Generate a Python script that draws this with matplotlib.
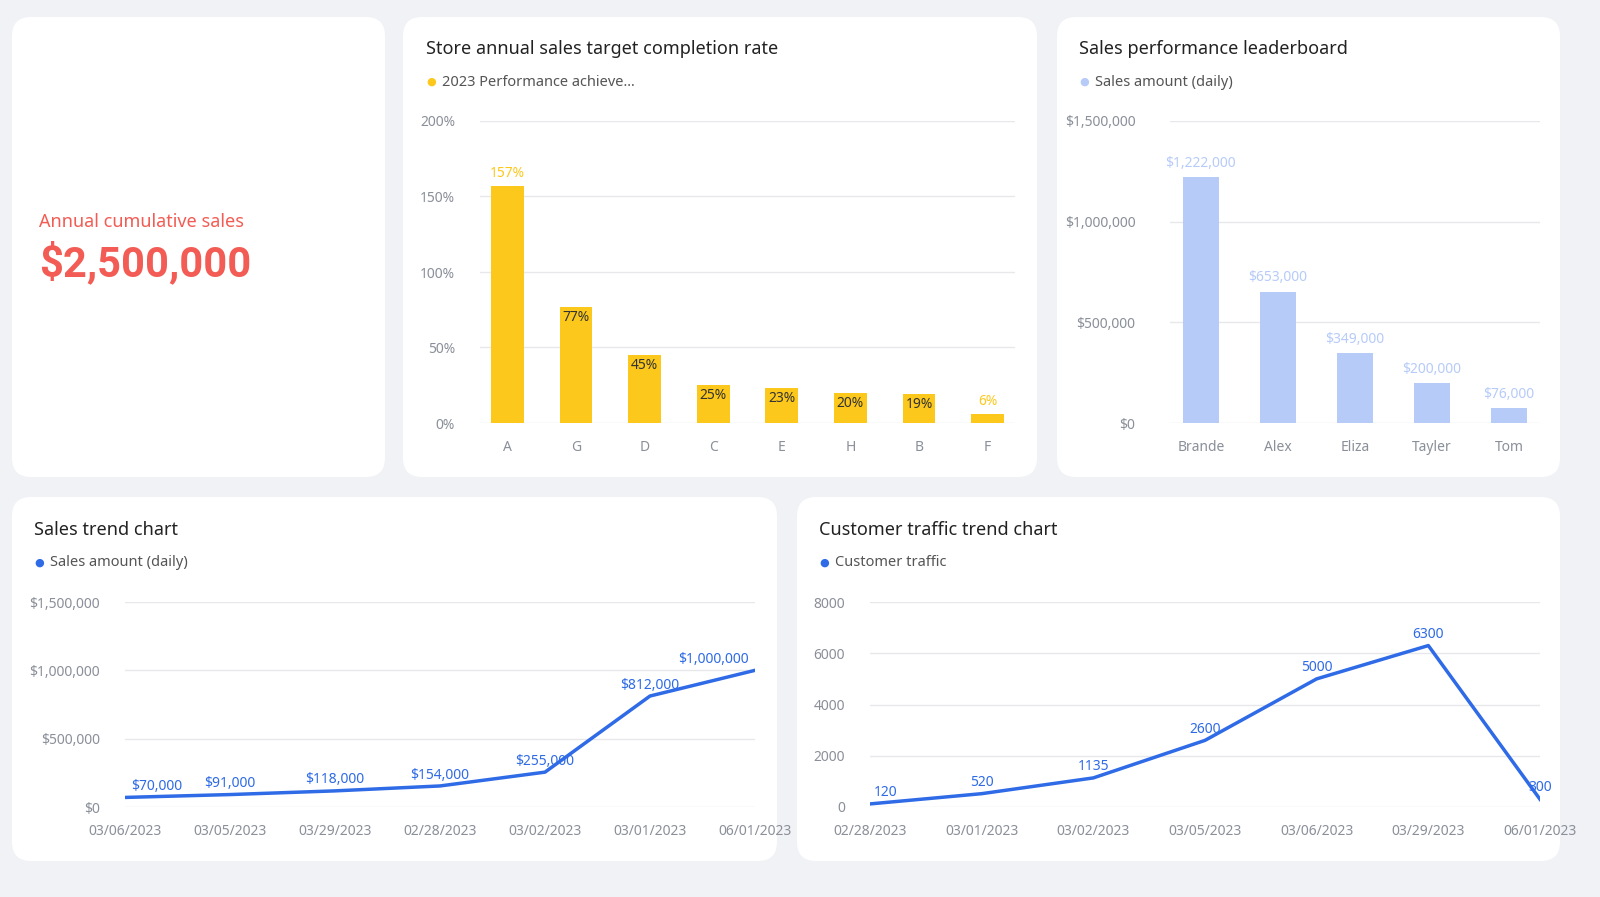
import matplotlib.pyplot as plt
from matplotlib.patches import FancyBboxPatch

W, H = 1600, 897
BG = "#f0f2f5"
YELLOW = "#fcc81c"
LIGHT_BLUE = "#b7cbf9"
BLUE = "#2f6be6"
GRID = "#e6e8eb"
TICK = "#8a8f99"

stores = ["A", "G", "D", "C", "E", "H", "B", "F"]
completion = [157, 77, 45, 25, 23, 20, 19, 6]

people = ["Brande", "Alex", "Eliza", "Tayler", "Tom"]
people_sales = [1222000, 653000, 349000, 200000, 76000]

sales_dates = ["03/06/2023", "03/05/2023", "03/29/2023", "02/28/2023",
               "03/02/2023", "03/01/2023", "06/01/2023"]
sales_values = [70000, 91000, 118000, 154000, 255000, 812000, 1000000]

traffic_dates = ["02/28/2023", "03/01/2023", "03/02/2023", "03/05/2023",
                 "03/06/2023", "03/29/2023", "06/01/2023"]
traffic_values = [120, 520, 1135, 2600, 5000, 6300, 300]

plt.rcParams["font.family"] = ["Noto Sans", "DejaVu Sans"]
fig = plt.figure(figsize=(W / 100, H / 100), dpi=100, facecolor=BG)


def card(x0, y0, x1, y1):
    fig.patches.append(FancyBboxPatch(
        (x0 / W, 1 - y1 / H), (x1 - x0) / W, (y1 - y0) / H,
        boxstyle="round,pad=0,rounding_size=0.012", transform=fig.transFigure,
        facecolor="white", edgecolor="none", mutation_aspect=W / H, zorder=-5))


def px_axes(x0, y0, x1, y1):
    ax = fig.add_axes([x0 / W, 1 - y1 / H, (x1 - x0) / W, (y1 - y0) / H])
    ax.set_facecolor("none")
    for s in ax.spines.values():
        s.set_visible(False)
    ax.tick_params(length=0, colors=TICK, labelsize=10)
    ax.grid(axis="y", color=GRID, lw=1)
    ax.set_axisbelow(True)
    return ax


def header(x, y, title, legend, color):
    fig.text(x / W, 1 - y / H, title, fontsize=13, color="#222", va="center")
    fig.text(x / W, 1 - (y + 33) / H, "●", fontsize=8, color=color, va="center")
    fig.text((x + 16) / W, 1 - (y + 33) / H, legend, fontsize=10.5, color="#555", va="center")


card(12, 17, 385, 477)
card(403, 17, 1037, 477)
card(1057, 17, 1560, 477)
card(12, 497, 777, 861)
card(797, 497, 1560, 861)

fig.text(39 / W, 1 - 222 / H, "Annual cumulative sales", fontsize=13, color="#f25c54", va="center")
fig.text(39 / W, 1 - 263 / H, "$2,500,000", fontsize=30, fontweight="bold",
         family="Roboto", color="#f25c54", va="center")

# store completion
header(426, 49, "Store annual sales target completion rate", "2023 Performance achieve...", YELLOW)
ax = px_axes(480, 121, 1015, 423)
ax.bar(range(len(stores)), completion, width=0.48, color=YELLOW)
ax.set_ylim(0, 200)
ax.set_xlim(-0.4, len(stores) - 0.6)
ax.set_yticks([0, 50, 100, 150, 200])
ax.set_yticklabels(["0%", "50%", "100%", "150%", "200%"])
ax.set_xticks(range(len(stores)))
ax.set_xticklabels(stores)
ax.tick_params(axis="y", pad=18)
ax.tick_params(axis="x", pad=12)
for i, v in enumerate(completion):
    if v > 100 or v < 10:
        ax.text(i, v + 3, f"{v}%", ha="center", va="bottom", fontsize=10, color=YELLOW)
    else:
        ax.text(i, v - 2, f"{v}%", ha="center", va="top", fontsize=10, color="#333")

# leaderboard
header(1079, 49, "Sales performance leaderboard", "Sales amount (daily)", LIGHT_BLUE)
ax = px_axes(1170, 121, 1540, 423)
ax.bar(range(len(people)), people_sales, width=0.46, color=LIGHT_BLUE)
ax.set_ylim(0, 1500000)
ax.set_xlim(-0.4, len(people) - 0.6)
ax.set_yticks([0, 500000, 1000000, 1500000])
ax.set_yticklabels(["$0", "$500,000", "$1,000,000", "$1,500,000"])
ax.set_xticks(range(len(people)))
ax.set_xticklabels(people)
ax.tick_params(axis="y", pad=25)
ax.tick_params(axis="x", pad=12)
for i, v in enumerate(people_sales):
    ax.text(i, v + 30000, f"${v:,}", ha="center", va="bottom", fontsize=10, color=LIGHT_BLUE)

# sales trend
header(34, 530, "Sales trend chart", "Sales amount (daily)", BLUE)
ax = px_axes(125, 602, 755, 807)
ax.plot(range(len(sales_values)), sales_values, color=BLUE, lw=2.5)
ax.set_ylim(0, 1500000)
ax.set_xlim(0, len(sales_values) - 1)
ax.set_yticks([0, 500000, 1000000, 1500000])
ax.set_yticklabels(["$0", "$500,000", "$1,000,000", "$1,500,000"])
ax.set_xticks(range(len(sales_dates)))
ax.set_xticklabels(sales_dates)
ax.tick_params(axis="y", pad=18)
ax.tick_params(axis="x", pad=12)
for i, v in enumerate(sales_values):
    ax.text(i + 0.3 if i == 0 else (i - 0.4 if i == 6 else i), v + 25000, f"${v:,}",
            ha="center", va="bottom", fontsize=10, color=BLUE, clip_on=False)

# traffic trend
header(819, 530, "Customer traffic trend chart", "Customer traffic", BLUE)
ax = px_axes(870, 602, 1540, 807)
ax.plot(range(len(traffic_values)), traffic_values, color=BLUE, lw=2.5)
ax.set_ylim(0, 8000)
ax.set_xlim(0, len(traffic_values) - 1)
ax.set_yticks([0, 2000, 4000, 6000, 8000])
ax.set_xticks(range(len(traffic_dates)))
ax.set_xticklabels(traffic_dates)
ax.tick_params(axis="y", pad=18)
ax.tick_params(axis="x", pad=12)
for i, v in enumerate(traffic_values):
    ax.text(i + 0.14 if i == 0 else i, v + 150, str(v), ha="center", va="bottom",
            fontsize=10, color=BLUE, clip_on=False)

fig.savefig("out.png", dpi=100, facecolor=BG)
